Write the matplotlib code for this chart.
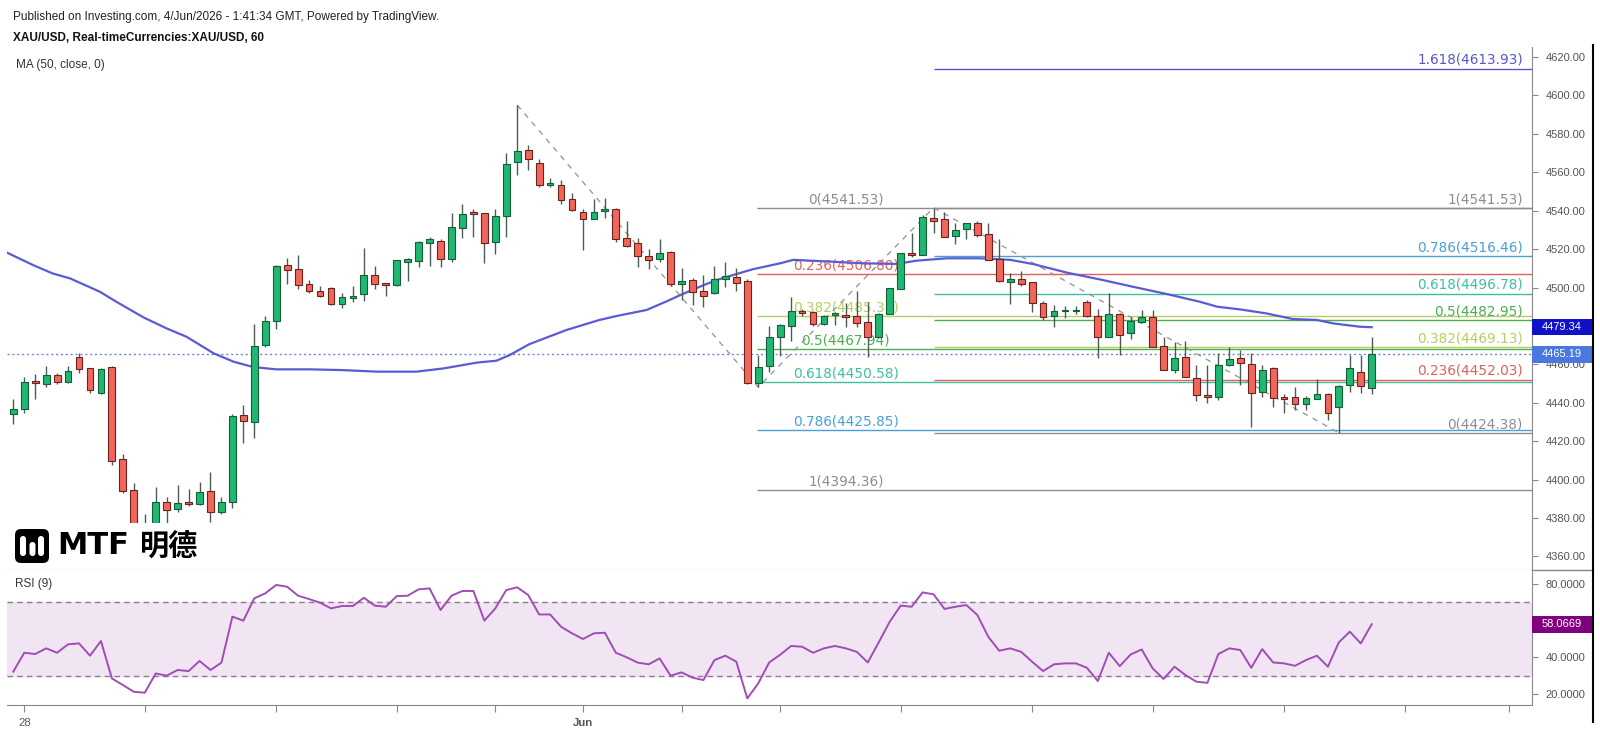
import matplotlib
matplotlib.use('Agg')
import matplotlib.pyplot as plt
import matplotlib.transforms as mtransforms
from matplotlib.patches import Rectangle, FancyBboxPatch
from matplotlib.lines import Line2D

# hourly XAU/USD candles
opens = [4434.0, 4436.8, 4451.0, 4449.8, 4454.5, 4451.0, 4464.0, 4457.9, 4445.3, 4458.5,
         4410.7, 4394.6, 4373.0, 4370.0, 4388.5, 4384.7, 4388.3, 4387.3, 4394.1, 4383.3,
         4388.5, 4433.7, 4430.2, 4470.1, 4482.7, 4511.7, 4509.4, 4501.6, 4498.2, 4499.9,
         4491.2, 4494.7, 4496.4, 4506.5, 4502.1, 4501.3, 4513.4, 4514.0, 4523.0, 4524.4,
         4514.6, 4531.1, 4539.1, 4538.9, 4523.8, 4537.2, 4565.5, 4571.6, 4565.0, 4553.5,
         4553.4, 4545.9, 4539.5, 4535.5, 4540.0, 4540.7, 4525.6, 4523.0, 4516.6, 4514.7,
         4518.7, 4501.9, 4503.9, 4498.2, 4497.0, 4504.3, 4505.3, 4503.6, 4450.1, 4459.3,
         4474.4, 4480.0, 4488.0, 4487.5, 4481.0, 4485.7, 4485.7, 4485.2, 4481.9, 4474.1,
         4486.2, 4499.1, 4518.2, 4517.0, 4536.1, 4535.5, 4526.9, 4530.3, 4533.5, 4527.9,
         4514.7, 4502.7, 4504.4, 4502.7, 4492.1, 4485.1, 4487.7, 4487.7, 4492.6, 4485.1,
         4474.4, 4486.2, 4476.1, 4482.2, 4484.8, 4469.5, 4457.0, 4463.6, 4452.7, 4444.0,
         4443.1, 4459.6, 4463.1, 4460.1, 4445.7, 4457.9, 4442.8, 4442.8, 4439.3, 4441.8,
         4444.5, 4437.6, 4449.2, 4455.8, 4447.5]
highs = [4441.8, 4453.3, 4454.8, 4459.2, 4455.7, 4459.2, 4465.8, 4458.3, 4458.3, 4459.2,
         4413.2, 4398.4, 4382.1, 4396.3, 4391.1, 4397.2, 4395.0, 4398.9, 4404.1, 4390.8,
         4434.0, 4438.9, 4480.8, 4485.1, 4511.5, 4515.2, 4516.9, 4503.9, 4500.8, 4500.5,
         4497.3, 4500.8, 4520.7, 4511.2, 4502.3, 4514.5, 4515.2, 4524.0, 4526.4, 4525.1,
         4538.9, 4543.3, 4540.7, 4539.0, 4540.7, 4570.2, 4595.0, 4574.2, 4567.0, 4557.0,
         4556.0, 4549.1, 4540.7, 4545.9, 4546.5, 4541.2, 4534.8, 4525.6, 4519.9, 4525.1,
         4519.2, 4510.0, 4504.8, 4506.5, 4511.2, 4513.5, 4510.0, 4504.3, 4464.9, 4480.0,
         4481.0, 4495.3, 4488.7, 4488.0, 4485.7, 4487.0, 4491.8, 4498.4, 4492.7, 4486.6,
         4500.0, 4518.2, 4528.6, 4537.8, 4541.5, 4539.5, 4533.5, 4533.8, 4534.8, 4533.8,
         4525.1, 4507.7, 4508.7, 4503.0, 4492.9, 4490.9, 4490.3, 4490.5, 4493.5, 4488.6,
         4497.3, 4486.9, 4484.8, 4488.3, 4488.3, 4474.4, 4471.8, 4472.1, 4459.6, 4459.6,
         4466.0, 4468.8, 4467.4, 4465.7, 4459.6, 4458.8, 4444.5, 4448.3, 4443.5, 4452.2,
         4445.2, 4449.0, 4464.8, 4464.8, 4474.0]
lows = [4429.0, 4434.5, 4441.8, 4448.1, 4449.8, 4450.5, 4455.7, 4445.3, 4444.6, 4407.6,
        4392.9, 4368.0, 4365.0, 4366.0, 4377.0, 4383.3, 4386.4, 4386.8, 4378.1, 4382.1,
        4385.1, 4418.9, 4421.5, 4469.2, 4478.2, 4501.6, 4499.0, 4497.3, 4494.9, 4490.9,
        4489.5, 4492.6, 4493.1, 4499.0, 4495.6, 4501.0, 4503.5, 4510.8, 4511.4, 4510.8,
        4513.4, 4525.9, 4526.4, 4512.9, 4517.2, 4526.4, 4558.5, 4561.2, 4552.2, 4552.2,
        4543.5, 4540.0, 4519.6, 4535.5, 4536.0, 4523.9, 4521.3, 4510.5, 4509.5, 4513.5,
        4500.8, 4493.5, 4490.9, 4490.1, 4496.7, 4500.5, 4498.4, 4449.8, 4448.1, 4456.2,
        4464.1, 4472.4, 4485.2, 4480.0, 4480.5, 4480.5, 4479.7, 4479.7, 4463.7, 4474.0,
        4486.0, 4499.0, 4516.1, 4517.0, 4528.6, 4526.5, 4522.7, 4525.1, 4526.5, 4514.4,
        4503.1, 4491.4, 4500.9, 4487.4, 4483.0, 4479.2, 4483.9, 4486.2, 4484.8, 4463.1,
        4474.4, 4464.8, 4473.0, 4481.8, 4468.8, 4457.0, 4455.6, 4453.2, 4441.1, 4439.7,
        4441.4, 4459.1, 4449.2, 4427.2, 4443.1, 4437.9, 4434.8, 4436.2, 4436.2, 4441.8,
        4431.0, 4424.4, 4445.7, 4445.2, 4444.5]
closes = [4436.6, 4451.0, 4450.5, 4454.5, 4450.7, 4456.6, 4457.4, 4446.7, 4457.4, 4409.9,
          4394.1, 4372.0, 4369.0, 4388.5, 4384.2, 4388.0, 4387.3, 4393.7, 4383.3, 4388.2,
          4433.1, 4430.7, 4469.5, 4482.5, 4511.2, 4509.1, 4501.3, 4498.3, 4495.6, 4491.2,
          4495.2, 4495.7, 4506.5, 4501.6, 4501.3, 4514.3, 4514.6, 4523.8, 4525.1, 4514.6,
          4531.3, 4538.2, 4538.2, 4523.0, 4537.2, 4564.3, 4571.0, 4566.9, 4553.4, 4554.2,
          4545.6, 4540.4, 4535.5, 4539.5, 4540.7, 4525.1, 4521.6, 4516.4, 4514.4, 4517.8,
          4501.9, 4503.4, 4497.9, 4495.6, 4504.3, 4506.0, 4502.6, 4450.1, 4458.8, 4474.4,
          4480.5, 4488.0, 4486.6, 4481.0, 4485.2, 4486.6, 4484.5, 4481.7, 4474.4, 4486.2,
          4500.0, 4517.8, 4517.0, 4536.9, 4534.8, 4526.5, 4530.0, 4533.5, 4527.4, 4514.4,
          4503.4, 4504.4, 4501.8, 4491.7, 4484.4, 4487.7, 4488.3, 4488.3, 4485.1, 4474.4,
          4486.2, 4475.2, 4482.5, 4484.4, 4469.2, 4457.0, 4463.1, 4453.2, 4444.0, 4443.1,
          4459.6, 4462.6, 4460.5, 4445.2, 4457.0, 4442.3, 4441.8, 4439.3, 4442.3, 4444.5,
          4434.5, 4448.7, 4457.9, 4448.7, 4465.19]

# MA(50) read at these candle positions
ma_idx = [-0.55, 1.8, 3.6, 5.2, 7.9, 9.4, 11.9, 14.0, 15.8, 18.3, 20.1, 21.9, 24.0, 27.1,
          30.1, 33.2, 36.8, 39.3, 42.3, 44.1, 45.3, 47.1, 50.5, 53.5, 55.1, 57.8, 59.6,
          60.9, 62.7, 64.2, 65.7, 67.5, 70.0, 71.2, 74.5, 77.6, 80.6, 82.5, 85.2, 88.2,
          91.0, 93.1, 96.2, 99.2, 102.2, 105.3, 108.3, 109.9, 112.0, 114.4, 116.8, 119.0,
          120.5, 122.9, 124.0]
ma_val = [4518.1, 4511.7, 4507.3, 4504.7, 4497.8, 4492.6, 4484.4, 4478.7, 4474.4, 4465.7,
          4461.4, 4458.6, 4457.4, 4457.4, 4457.0, 4456.2, 4456.2, 4457.9, 4460.9, 4461.9,
          4464.8, 4470.5, 4477.9, 4483.1, 4485.2, 4488.3, 4492.7, 4496.1, 4500.5, 4503.9,
          4506.5, 4509.5, 4512.6, 4514.4, 4513.5, 4512.6, 4512.3, 4514.0, 4515.2, 4515.2,
          4514.4, 4512.2, 4507.7, 4504.2, 4500.4, 4496.6, 4492.6, 4490.0, 4488.6, 4486.5,
          4483.6, 4483.1, 4481.3, 4479.6, 4479.34]

rsi = [32.2, 42.5, 41.8, 44.9, 42.5, 47.1, 47.6, 40.9, 48.9, 28.5,
       24.9, 21.2, 20.7, 31.2, 30.0, 33.1, 32.5, 38.0, 33.1, 37.1,
       62.2, 60.0, 72.2, 74.9, 79.5, 78.5, 73.6, 71.8, 69.8, 66.7,
       68.0, 68.0, 72.5, 68.2, 67.6, 73.4, 73.6, 77.1, 77.6, 65.8,
       73.6, 76.2, 76.2, 60.0, 66.7, 76.7, 78.2, 74.0, 63.4, 63.4,
       56.7, 53.1, 50.0, 53.1, 53.4, 42.5, 40.0, 37.1, 36.2, 39.4,
       30.0, 31.8, 28.9, 27.6, 38.5, 40.9, 37.6, 17.6, 25.8, 37.2,
       41.4, 46.2, 45.8, 42.5, 44.9, 46.2, 44.9, 43.0, 37.2, 48.2,
       59.4, 68.2, 67.6, 75.4, 74.4, 66.4, 67.6, 68.5, 63.1, 51.2,
       43.6, 44.9, 43.0, 37.6, 32.5, 36.2, 36.7, 36.7, 34.3, 27.1,
       42.5, 35.2, 41.6, 44.3, 34.0, 28.2, 34.9, 30.3, 26.7, 26.1,
       41.8, 44.9, 44.0, 34.3, 44.5, 37.2, 36.7, 35.4, 38.5, 40.9,
       34.9, 48.2, 54.0, 47.6, 58.0669]

# fibonacci drawings
fib_a_levels = [0, 0.236, 0.382, 0.5, 0.618, 0.786, 1]
fib_a_prices = [4541.53, 4506.80, 4485.31, 4467.94, 4450.58, 4425.85, 4394.36]
fib_b_levels = [1.618, 1, 0.786, 0.618, 0.5, 0.382, 0.236, 0]
fib_b_prices = [4613.93, 4541.53, 4516.46, 4496.78, 4482.95, 4469.13, 4452.03, 4424.38]
trend_x = [46, 68, 84, 121]
trend_y = [4595.0, 4448.1, 4541.53, 4424.38]

xtick_pos = [1, 12, 24, 35, 44, 52, 61, 70, 81, 93, 104, 116, 127, 136.5]
xtick_lab = ['28', '', '', '', '', 'Jun', '', '', '', '', '', '', '', '']
price_ticks = list(range(4360, 4621, 20))
rsi_ticks = [20, 40, 60, 80]

last_price = 4465.19
ma_last = 4479.34
rsi_last = 58.0669

fib_colors = {0: '#8e8e8e', 0.236: '#e0605c', 0.382: '#b6cf5e', 0.5: '#4cae4f',
              0.618: '#3fbf9f', 0.786: '#4a9fd6', 1: '#8e8e8e', 1.618: '#5757c9'}
UP, DOWN = '#1fb771', '#f1655b'
UP_EDGE, DOWN_EDGE = '#155c38', '#6b231d'

W, H = 1600, 734
fig = plt.figure(figsize=(W / 100, H / 100), dpi=100, facecolor='white')


def fx(px):
    return px / W


def fy(py):
    return 1 - py / H


ax = fig.add_axes([fx(7), fy(570), fx(1532 - 7), fy(47) - fy(570)])
rax = fig.add_axes([fx(7), fy(705), fx(1532 - 7), fy(570) - fy(705)], sharex=ax)

xs = list(range(len(opens)))
xmin, xmax = -0.575, 138.63

# candles
for i in xs:
    o, h, l, c = opens[i], highs[i], lows[i], closes[i]
    up = c >= o
    ax.vlines(i, l, h, color='#4d5c52', lw=1, zorder=4)
    ax.bar(i, max(abs(c - o), 0.6), bottom=min(o, c), width=0.62,
           color=UP if up else DOWN, edgecolor=UP_EDGE if up else DOWN_EDGE,
           linewidth=0.8, zorder=5)

ax.plot(ma_idx, ma_val, color='#5b5bd6', lw=1.6, zorder=3)
ax.axhline(last_price, color='#6e86d8', lw=1, ls=(0, (1.5, 2)), zorder=2)
ax.plot(trend_x, trend_y, color='#9a9a9a', lw=1, ls=(0, (4, 4)), zorder=2.5)

for lvl, p in zip(fib_a_levels, fib_a_prices):
    ax.hlines(p, 67.9, xmax, color=fib_colors[lvl], lw=1, zorder=1)
    ax.text(76, p + 0.9, '{:g}({:.2f})'.format(lvl, p), color=fib_colors[lvl],
            ha='center', va='bottom', fontsize=9.8, family='DejaVu Sans', zorder=1.5)
for lvl, p in zip(fib_b_levels, fib_b_prices):
    ax.hlines(p, 84, xmax, color=fib_colors[lvl], lw=1, zorder=1)
    ax.text(137.8, p + 0.9, '{:g}({:.2f})'.format(lvl, p), color=fib_colors[lvl],
            ha='right', va='bottom', fontsize=9.8, family='DejaVu Sans', zorder=1.5)

ax.set_xlim(xmin, xmax)
ax.set_ylim(4352.95, 4625.2)
ax.set_yticks(price_ticks)
# the 4480 label sits under the MA price box
ax.set_yticklabels(['' if v == 4480 else '{:.2f}'.format(v) for v in price_ticks])
ax.yaxis.tick_right()
ax.tick_params(axis='y', length=4, pad=6, color='#888888', labelcolor='#555555',
               labelsize=8)
ax.tick_params(axis='x', bottom=False, labelbottom=False)
for s in ['top', 'left']:
    ax.spines[s].set_visible(False)
ax.spines['right'].set_color('#888888')
ax.spines['bottom'].set_color('#888888')
for lab in ax.get_yticklabels():
    lab.set_family('Liberation Sans')


def price_box(axis, val, text, fc, h):
    tr = mtransforms.blended_transform_factory(fig.transFigure, axis.transData)
    axis.add_patch(Rectangle((fx(1532), val - h / 2), fx(60), h, transform=tr,
                             facecolor=fc, edgecolor='none', clip_on=False, zorder=10))
    axis.text(fx(1562), val, text, transform=tr, ha='center', va='center',
              color='white', fontsize=8, family='Liberation Sans', clip_on=False,
              zorder=11)


price_box(ax, ma_last, '{:.2f}'.format(ma_last), '#1010c8', 8.6)
price_box(ax, last_price, '{:.2f}'.format(last_price), '#4a78de', 8.9)

# RSI pane
rax.axhspan(30, 70, color='#f2e5f3', zorder=0)
rax.axhline(70, color='#8c7c8c', lw=1, ls=(0, (4, 3)), zorder=1)
rax.axhline(30, color='#8c7c8c', lw=1, ls=(0, (4, 3)), zorder=1)
rax.plot(xs, rsi, color='#a04db5', lw=1.4, zorder=3)
rax.set_ylim(14.0, 87.64)
rax.set_yticks(rsi_ticks)
# 60 is covered by the RSI value box
rax.set_yticklabels(['' if v == 60 else '{:.4f}'.format(v) for v in rsi_ticks])
rax.yaxis.tick_right()
rax.tick_params(axis='y', length=4, pad=6, color='#888888', labelcolor='#555555',
                labelsize=8)
rax.set_xticks(xtick_pos)
rax.set_xticklabels(xtick_lab)
rax.tick_params(axis='x', length=5, pad=4, color='#888888', labelcolor='#555555',
                labelsize=8.2)
for lab in rax.get_yticklabels() + rax.get_xticklabels():
    lab.set_family('Liberation Sans')
rax.get_xticklabels()[5].set_fontweight('bold')
rax.spines['top'].set_visible(False)
rax.spines['left'].set_visible(False)
rax.spines['right'].set_color('#888888')
rax.spines['bottom'].set_color('#888888')
rax.set_xlim(xmin, xmax)
price_box(rax, rsi_last, '{:.4f}'.format(rsi_last), '#800080', 9.3)

# headers
fig.text(fx(13), fy(17), 'Published on Investing.com, 4/Jun/2026 - 1:41:34 GMT, Powered by TradingView.',
         fontsize=8.5, family='Liberation Sans', color='#222222', va='center')
fig.text(fx(13), fy(38), 'XAU/USD, Real-timeCurrencies:XAU/USD, 60', fontsize=8.5,
         family='Liberation Sans', weight='bold', color='#111111', va='center')
fig.text(fx(16), fy(65), 'MA (50, close, 0)', fontsize=8.5, family='Liberation Sans',
         color='#333333', va='center')
fig.text(fx(15), fy(584), 'RSI (9)', fontsize=8.5, family='Liberation Sans',
         color='#333333', va='center')

# frame lines
fig.add_artist(Line2D([fx(1532), fx(1593)], [fy(570), fy(570)], color='#888888', lw=1))
fig.add_artist(Line2D([fx(1593), fx(1593)], [fy(45), fy(722)], color='black', lw=1.5))

# logo
lax = fig.add_axes([fx(7), fy(568), fx(200), fy(523) - fy(568)])
lax.set_xlim(0, 200)
lax.set_ylim(45, 0)
lax.set_facecolor('white')
lax.axis('off')
lax.add_patch(Rectangle((0, 0), 200, 45, facecolor='white', edgecolor='none'))
lax.add_patch(FancyBboxPatch((8, 6), 34, 34, boxstyle='round,pad=0,rounding_size=6',
                             facecolor='black', edgecolor='none'))
for bx, top, bot in [(13, 13, 33), (22.5, 19, 33), (31, 13, 33)]:
    lax.add_patch(FancyBboxPatch((bx, top), 6, bot - top,
                                 boxstyle='round,pad=0,rounding_size=3',
                                 facecolor='white', edgecolor='none'))
lax.text(50, 23, 'MTF', fontsize=22, weight='bold', family='DejaVu Sans',
         color='black', va='center', ha='left')
lax.text(133, 23, '明德', fontsize=21, weight='bold', family='Noto Sans CJK SC',
         color='black', va='center', ha='left')

fig.savefig('out.png', dpi=100, facecolor='white')
